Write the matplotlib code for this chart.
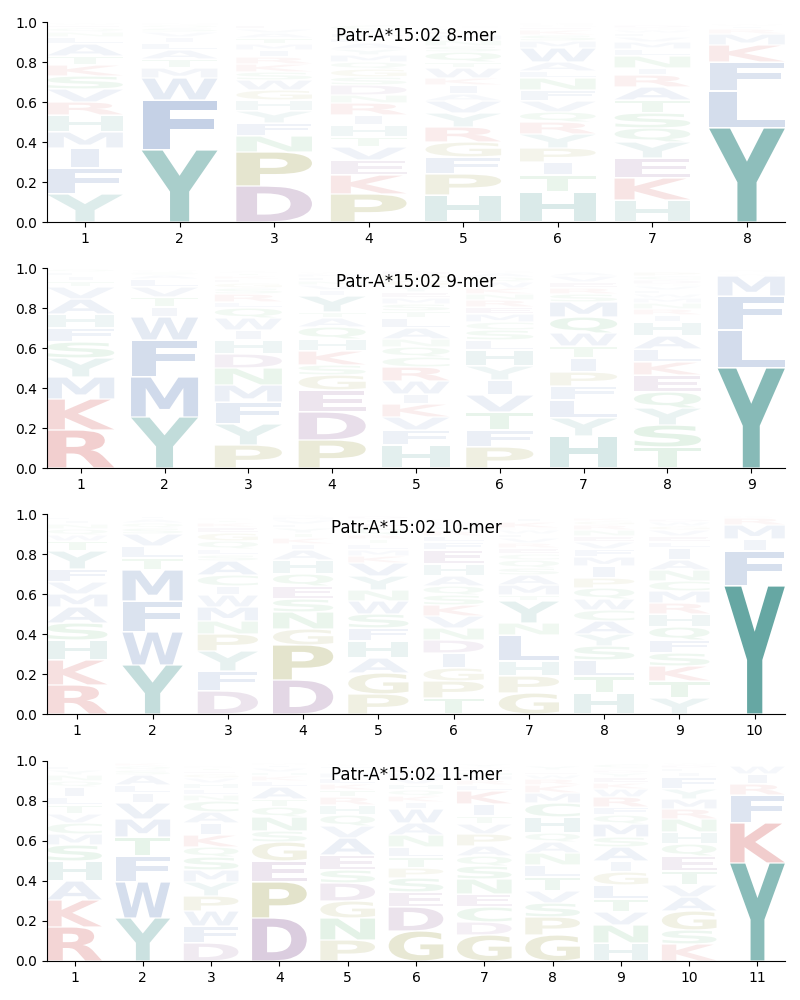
import matplotlib
matplotlib.use('Agg')
import matplotlib.pyplot as plt
from matplotlib.textpath import TextPath
from matplotlib.patches import PathPatch
from matplotlib.font_manager import FontProperties
from matplotlib.transforms import Affine2D

# letters of each position, bottom to top, with their heights (frequency)
letters_8mer = ["YFIMHRVSKTALNQEW", "YFWMTALIVSQN", "DPNFYHGWSKRIMTAVEL",
                "PKEVTHIRNDSGQMYALFWC", "HPFGRYVAIKWTQSNMELD", "HTIPYRQVFNLAWMSKEGD",
                "HKEYQSTARINLMVFWGD", "YLFKMRIWV"]
heights_8mer = [
    [.14, .13, .10, .08, .085, .065, .065, .065, .055, .045, .06, .035, .025, .02, .015, .01],
    [.36, .25, .11, .05, .045, .045, .035, .03, .025, .02, .015, .01],
    [.18, .17, .08, .065, .06, .055, .05, .05, .04, .04, .035, .035, .03, .03, .025, .02, .02, .01],
    [.14, .095, .075, .065, .05, .06, .05, .06, .04, .05, .04, .04, .035, .035, .03, .03, .025, .025, .015, .025],
    [.135, .105, .085, .075, .075, .07, .06, .035, .045, .035, .05, .03, .05, .03, .03, .025, .02, .015, .01],
    [.15, .085, .065, .07, .07, .06, .05, .055, .055, .06, .035, .045, .07, .035, .03, .025, .015, .01, .01],
    [.11, .11, .10, .08, .07, .075, .065, .065, .06, .035, .06, .035, .035, .025, .02, .015, .01, .015],
    [.47, .185, .145, .085, .055, .025, .015, .01, .005],
]

letters_9mer = ["RKMYSFHAVTILQ", "YMFWITVLASQ", "PYFMNDHIWQLRSGEKTA", "PDEGSKHQATYIVNLMW",
                "HFVKIWRCQNALTSMEYGPD", "PFTVIYHLSCMERNKWQAG", "HYLFPITWQMSREVA",
                "TSYQEKLAHIRNMWFVGDCP", "YLFMWIR"]
heights_9mer = [
    [.19, .155, .11, .095, .08, .07, .07, .075, .06, .03, .025, .02, .015],
    [.255, .20, .185, .115, .05, .05, .05, .04, .02, .015, .01],
    [.115, .105, .11, .085, .085, .07, .07, .05, .06, .05, .03, .04, .03, .025, .02, .015, .015, .01],
    [.14, .14, .11, .075, .05, .07, .06, .06, .045, .03, .08, .03, .025, .02, .02, .015, .01],
    [.115, .075, .065, .065, .05, .065, .07, .05, .05, .04, .055, .05, .035, .035, .03, .03, .03, .03, .025, .02],
    [.105, .085, .09, .085, .075, .07, .08, .05, .05, .04, .04, .035, .035, .03, .03, .03, .025, .02, .01],
    [.16, .09, .09, .07, .07, .07, .06, .065, .08, .075, .04, .03, .03, .03, .02],
    [.105, .11, .085, .08, .085, .065, .065, .065, .07, .035, .03, .03, .025, .02, .02, .02, .01, .02, .02, .02],
    [.50, .19, .17, .10, .01, .01, .01],
]

letters_10mer = ["RKHSAMVFYTWQNIL", "YWFMTLVSQAI", "DFYPNMWICASLQGEKTR", "DPGNSEQHAIKTYLVMR",
                 "PGAHFSWNYVKMLTRQEID", "TPGIDNVKSQAHEFLRYMWC", "GPHLNYTMASQCERVFWDKI",
                 "HTLSYACWQPIMFVENRGK", "YTKSFQHRMCNAILEVGWD", "YFIMRK"]
heights_10mer = [
    [.145, .125, .10, .085, .08, .065, .06, .065, .09, .05, .03, .03, .025, .02, .015],
    [.245, .165, .155, .155, .06, .06, .06, .03, .025, .02, .015],
    [.115, .10, .10, .085, .065, .07, .06, .045, .055, .07, .03, .03, .04, .04, .03, .02, .015, .01],
    [.17, .175, .08, .085, .065, .065, .06, .07, .05, .03, .03, .025, .025, .02, .02, .015, .01],
    [.10, .105, .075, .085, .065, .07, .065, .055, .07, .065, .035, .03, .03, .025, .02, .035, .025, .02, .015],
    [.08, .085, .065, .075, .065, .06, .06, .055, .05, .045, .05, .06, .07, .04, .03, .025, .02, .015, .015, .01],
    [.105, .085, .075, .13, .06, .11, .03, .05, .05, .035, .04, .03, .03, .025, .025, .02, .02, .01, .03, .02],
    [.105, .085, .08, .07, .06, .065, .055, .055, .055, .05, .06, .045, .04, .035, .03, .03, .025, .02, .015],
    [.08, .085, .075, .065, .065, .065, .065, .055, .06, .05, .055, .05, .06, .03, .03, .03, .02, .02, .015],
    [.64, .175, .06, .07, .035, .01],
]

letters_11mer = ["RKAHSMCVTLIQNYFE", "YWFTMVILASQK", "DFWPYMSQKIACNLHVGETR", "DPEGSNQTALKHVIM",
                 "PNGDSEAVQHRTKLMIFY", "GDESPTLNAWIKQHVMFRY", "GDCENSQAPVTIKLRMHFWY",
                 "GPSVTLNAQHCMKRWEFYI", "HNVTLGIASMQFRWKEYDPC", "KSGAVTEQHNRMYFILDW", "YKFRIW"]
heights_11mer = [
    [.17, .135, .095, .10, .08, .055, .055, .045, .045, .04, .05, .03, .03, .025, .02, .01],
    [.215, .18, .13, .095, .09, .08, .05, .04, .05, .025, .02, .015],
    [.09, .085, .075, .075, .07, .06, .065, .05, .06, .06, .055, .055, .03, .03, .03, .025, .02, .015, .015, .01],
    [.215, .18, .105, .095, .055, .07, .05, .04, .06, .03, .025, .02, .02, .015, .01],
    [.105, .11, .085, .09, .065, .075, .085, .06, .055, .05, .04, .035, .03, .03, .025, .02, .015, .01],
    [.15, .12, .075, .07, .05, .055, .05, .06, .06, .07, .035, .03, .03, .03, .03, .025, .02, .015, .01],
    [.13, .065, .075, .065, .075, .065, .05, .05, .06, .05, .04, .06, .065, .03, .025, .02, .02, .015, .01, .015],
    [.13, .09, .07, .06, .07, .06, .06, .055, .045, .08, .07, .05, .04, .03, .02, .015, .01, .02, .01],
    [.09, .09, .065, .065, .07, .065, .055, .07, .05, .065, .045, .04, .05, .04, .03, .03, .02, .015, .01, .02],
    [.085, .07, .095, .07, .06, .07, .075, .06, .06, .065, .05, .05, .05, .06, .025, .02, .015, .01],
    [.49, .20, .14, .055, .05, .04],
]

titles = ["Patr-A*15:02 8-mer", "Patr-A*15:02 9-mer", "Patr-A*15:02 10-mer", "Patr-A*15:02 11-mer"]

# colour groups
teal = (0.28, 0.59, 0.57)
blue = (0.30, 0.45, 0.70)
red = (0.80, 0.25, 0.25)
purple = (0.50, 0.30, 0.55)
olive = (0.55, 0.55, 0.15)
green = (0.25, 0.65, 0.35)
colors = {}
for aa in "YH":
    colors[aa] = teal
for aa in "AVLIMFW":
    colors[aa] = blue
for aa in "KR":
    colors[aa] = red
for aa in "DE":
    colors[aa] = purple
for aa in "PG":
    colors[aa] = olive
for aa in "STNQC":
    colors[aa] = green

fp = FontProperties(family='DejaVu Sans', weight='bold')
# glyphs are not stretched sideways more than 'E' is (narrow I stays narrow)
e_width = TextPath((0, 0), 'E', size=1, prop=fp).get_extents().width


def draw_letter(ax, ch, x, y, w, h):
    pad = 0.003
    if h <= 2 * pad:
        return
    tp = TextPath((0, 0), ch, size=1, prop=fp)
    bb = tp.get_extents()
    sx = min(w / bb.width, w / e_width)
    gw = bb.width * sx
    t = Affine2D().translate(-bb.x0, -bb.y0).scale(sx, (h - 2 * pad) / bb.height) \
        .translate(x + (w - gw) / 2, y + pad)
    alpha = min(1.0, 1.3 * h)
    ax.add_patch(PathPatch(t.transform_path(tp), fc=colors[ch], ec='none', lw=0, alpha=alpha))


panels = [(titles[0], letters_8mer, heights_8mer), (titles[1], letters_9mer, heights_9mer),
          (titles[2], letters_10mer, heights_10mer), (titles[3], letters_11mer, heights_11mer)]

fig = plt.figure(figsize=(8, 10), dpi=100)
bottoms = [0.778, 0.532, 0.286, 0.039]
for k, (title, letters, heights) in enumerate(panels):
    ax = fig.add_axes([0.059, bottoms[k], 0.922, 0.2])
    n = len(letters)
    for i in range(n):
        y = 0.0
        for ch, h in zip(letters[i], heights[i]):
            draw_letter(ax, ch, i + 1 - 0.4, y, 0.8, h)
            y += h
    ax.set_xlim(0.6, n + 0.4)
    ax.set_ylim(0, 1)
    ax.set_xticks(range(1, n + 1))
    ax.set_yticks([0, 0.2, 0.4, 0.6, 0.8, 1.0])
    ax.spines['top'].set_visible(False)
    ax.spines['right'].set_visible(False)
    ax.text(0.5, 0.93, title, transform=ax.transAxes, ha='center', va='center', fontsize=12)

plt.savefig('out.png')
